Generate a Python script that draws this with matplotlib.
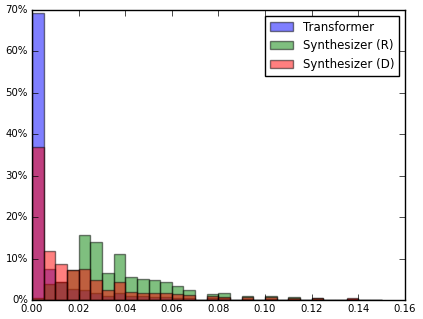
import matplotlib
matplotlib.use("Agg")
import matplotlib.pyplot as plt
import matplotlib.ticker as mticker
import numpy as np

plt.style.use("classic")
plt.rcParams["font.family"] = ["DejaVu Sans"]

bin_width = 0.005
n_bins = 30
bin_edges = [round(i * bin_width, 4) for i in range(n_bins)]

transformer = [0.693, 0.074, 0.043, 0.027, 0.025, 0.018, 0.010, 0.018, 0.009, 0.009,
               0.008, 0.008, 0.006, 0.006, 0.0, 0.004, 0.004, 0.0, 0.003, 0.0,
               0.003, 0.0, 0.002, 0.0, 0.002, 0.0, 0.0, 0.002, 0.0, 0.0]
synth_r = [0.006, 0.039, 0.043, 0.073, 0.156, 0.139, 0.065, 0.111, 0.056, 0.050,
           0.048, 0.044, 0.033, 0.025, 0.0, 0.0136, 0.016, 0.0, 0.0105, 0.0,
           0.0105, 0.0, 0.0073, 0.0, 0.004, 0.0, 0.0, 0.003, 0.0, 0.0]
synth_d = [0.370, 0.117, 0.086, 0.073, 0.075, 0.049, 0.023, 0.044, 0.019, 0.017,
           0.017, 0.017, 0.0145, 0.013, 0.0, 0.009, 0.008, 0.0, 0.0073, 0.0,
           0.0065, 0.0, 0.005, 0.0, 0.0057, 0.0, 0.0, 0.005, 0.0, 0.0]
labels = ["Transformer", "Synthesizer (R)", "Synthesizer (D)"]
colors = ["b", "g", "r"]

x_ticks = [0.00, 0.02, 0.04, 0.06, 0.08, 0.10, 0.12, 0.14, 0.16]
y_ticks = [0.0, 0.1, 0.2, 0.3, 0.4, 0.5, 0.6, 0.7]

fig = plt.figure(figsize=(4.23, 3.19), dpi=100, facecolor="white")
ax = fig.add_axes([0.0757, 0.0596, 0.957 - 0.0757, 0.969 - 0.0596])

for vals, lab, col in zip([transformer, synth_r, synth_d], labels, colors):
    ax.bar(bin_edges, vals, width=bin_width, align="edge", color=col, alpha=0.5,
           edgecolor="black", linewidth=1, label=lab)

ax.set_xlim(0, 0.16)
ax.set_ylim(0, 0.7)
ax.set_xticks(x_ticks)
ax.set_yticks(y_ticks)
ax.xaxis.set_major_formatter(mticker.FormatStrFormatter("%.2f"))
ax.yaxis.set_major_formatter(mticker.FuncFormatter(lambda v, p: "{:.0f}%".format(v * 100)))
ax.tick_params(labelsize=7.3, direction="in", top=True, right=True, length=4, pad=3)

leg = ax.legend(loc="upper right", fontsize=8.5, frameon=True, fancybox=False,
                borderaxespad=0.5, handlelength=2.0)
leg.get_frame().set_edgecolor("black")

fig.savefig("out.png", dpi=100, facecolor="white")
